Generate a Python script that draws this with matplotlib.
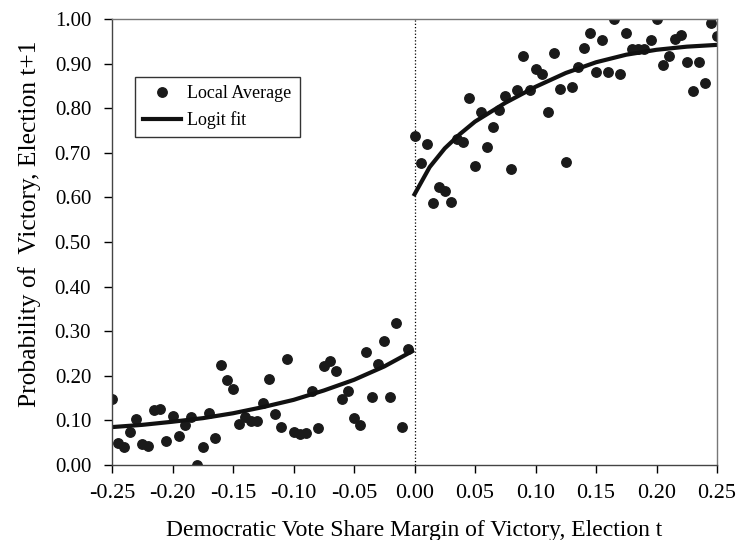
import numpy as np
import matplotlib
matplotlib.use("Agg")
import matplotlib.pyplot as plt
from matplotlib.ticker import FormatStrFormatter, MultipleLocator

plt.rcParams['font.family'] = ['Liberation Serif', 'DejaVu Serif']

# local averages in bins of width 0.005 of the Democratic margin
margin_left = np.arange(-0.25, -0.0049, 0.005)
avg_left = [0.149, 0.050, 0.041, 0.075, 0.104, 0.047, 0.043, 0.123, 0.125, 0.053,
            0.110, 0.065, 0.090, 0.107, 0.000, 0.040, 0.116, 0.061, 0.224, 0.191,
            0.171, 0.093, 0.108, 0.099, 0.099, 0.138, 0.193, 0.114, 0.086, 0.238,
            0.075, 0.070, 0.072, 0.167, 0.082, 0.223, 0.233, 0.211, 0.147, 0.166,
            0.105, 0.090, 0.253, 0.152, 0.226, 0.278, 0.152, 0.319, 0.086, 0.259]

margin_right = np.arange(0.0, 0.2501, 0.005)
avg_right = [0.738, 0.677, 0.720, 0.587, 0.623, 0.615, 0.590, 0.730, 0.724, 0.824,
             0.670, 0.792, 0.714, 0.757, 0.797, 0.827, 0.664, 0.841, 0.916, 0.841,
             0.889, 0.876, 0.792, 0.924, 0.842, 0.680, 0.848, 0.893, 0.936, 0.968,
             0.882, 0.954, 0.882, 0.999, 0.876, 0.969, 0.933, 0.933, 0.933, 0.954,
             0.999, 0.897, 0.916, 0.956, 0.964, 0.904, 0.839, 0.904, 0.857, 0.992,
             0.962]

# fitted probabilities on each side of the threshold
fit_x_left = [-0.25, -0.225, -0.20, -0.175, -0.15, -0.125, -0.10, -0.075, -0.05, -0.025, -0.002]
fit_p_left = [0.085, 0.090, 0.097, 0.105, 0.116, 0.130, 0.146, 0.167, 0.191, 0.221, 0.255]

fit_x_right = [0.0, 0.0125, 0.025, 0.0375, 0.05, 0.075, 0.10, 0.125, 0.15, 0.175, 0.20, 0.225, 0.25]
fit_p_right = [0.607, 0.668, 0.710, 0.742, 0.770, 0.812, 0.848, 0.879, 0.903, 0.920, 0.931, 0.938, 0.942]

fig = plt.figure(figsize=(7.4, 5.4), dpi=100)
ax = fig.add_axes([0.1514, 0.1389, 0.8176, 0.8259])

ax.axvline(0, color='black', lw=0.9, ls=':', zorder=1)

ax.plot(margin_left, avg_left, 'o', color='#1a1a1a', ms=6.8, zorder=3, label='Local Average')
ax.plot(margin_right, avg_right, 'o', color='#1a1a1a', ms=6.8, zorder=3)
ax.plot(fit_x_left, fit_p_left, '-', color='#111111', lw=3, zorder=4, label='Logit fit')
ax.plot(fit_x_right, fit_p_right, '-', color='#111111', lw=3, zorder=4)

ax.set_xlim(-0.25, 0.25)
ax.set_ylim(0.0, 1.0)
ax.xaxis.set_major_locator(MultipleLocator(0.05))
ax.yaxis.set_major_locator(MultipleLocator(0.1))
ax.xaxis.set_major_formatter(FormatStrFormatter('%.2f'))
ax.yaxis.set_major_formatter(FormatStrFormatter('%.2f'))
ax.tick_params(direction='out', length=6, width=1)
ax.tick_params(axis='x', labelsize=16, pad=8)
ax.tick_params(axis='y', labelsize=15, pad=9)

for s in ax.spines.values():
    s.set_color('#444444')
    s.set_linewidth(1.0)
    s.set_zorder(5)
for s in ('top', 'right'):
    ax.spines[s].set_color('#777777')

ax.set_xlabel('Democratic Vote Share Margin of Victory, Election t', fontsize=17, labelpad=12)
ax.set_ylabel('Probability of  Victory, Election t+1', fontsize=18.4)
ax.yaxis.set_label_coords(-0.117, 0.54)

leg = ax.legend(loc='upper left', bbox_to_anchor=(0.038, 0.870), fontsize=13,
                frameon=True, fancybox=False, edgecolor='#333333', framealpha=1,
                handlelength=2.1, handletextpad=0.35, borderpad=0.45,
                labelspacing=0.5, borderaxespad=0)
leg.get_frame().set_linewidth(1.0)

fig.savefig('out.png', dpi=100)
